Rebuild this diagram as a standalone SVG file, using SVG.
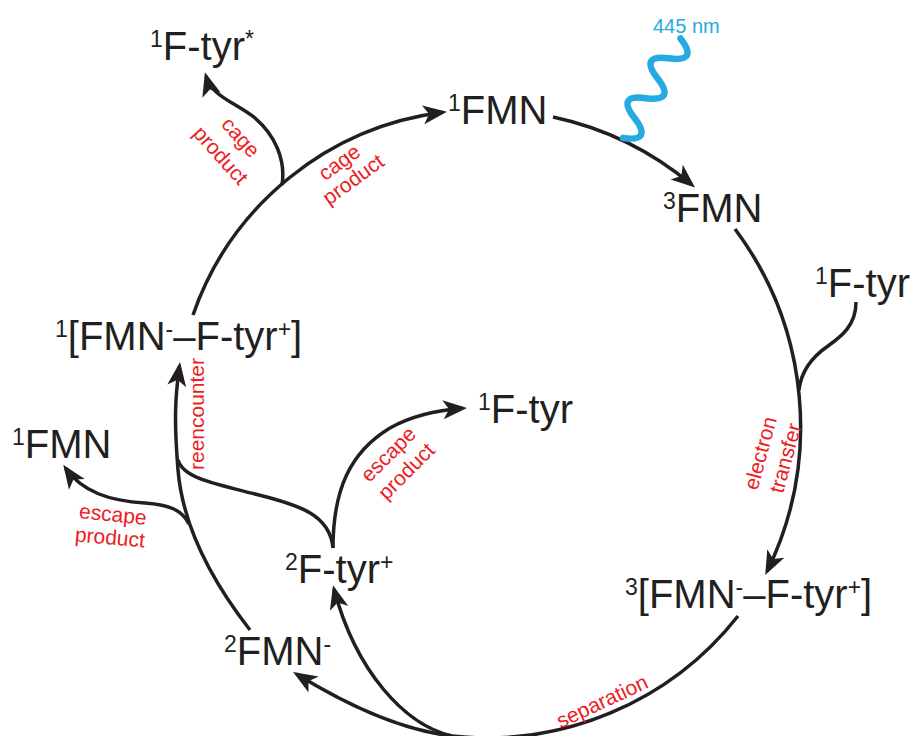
<svg xmlns="http://www.w3.org/2000/svg" width="914" height="736" viewBox="0 0 914 736">
<style>
.t{font-family:"Liberation Sans",Arial,sans-serif;font-size:40px;fill:#231f20}
.s{font-size:23px}
.r{font-family:"Liberation Sans",Arial,sans-serif;font-size:21px;fill:#ed1c24;text-anchor:middle;dominant-baseline:central}
.c{fill:none;stroke:#231f20;stroke-width:3.5}
.a{marker-end:url(#ah)}
</style>
<defs>
<marker id="ah" viewBox="-22 -11 26 22" markerWidth="26" markerHeight="22" refX="0" refY="0" orient="auto" markerUnits="userSpaceOnUse">
<path d="M4,0 L-20,-9.5 L-14,0 L-20,9.5 Z" fill="#231f20"/>
</marker>
</defs>
<rect width="914" height="736" fill="#fff"/>
<g id="connectors">
<path class="c a" d="M193,315 A305,305 0 0 1 443,112.3"/>
<path class="c a" d="M282,185 C286,160 275,135 255,118 C235,102 212,97 206,76"/>
<path class="c a" d="M553,117 A320,320 0 0 1 692,185"/>
<path class="c a" d="M735,229 A330,330 0 0 1 767,571.5"/>
<path class="c" d="M856,302 C856,325 842,336 828,346 C812,357 801,372 799,390"/>
<path class="c" d="M738,616 A320,320 0 0 1 452,736"/>
<path class="c a" d="M452,736 C400,730 342,702 296.5,674"/>
<path class="c a" d="M452,736 C405,725 356,672 334,589"/>
<path class="c a" d="M250,630 C215,585 183,530 178,470 C174,420 175,398 179.5,366"/>
<path class="c a" d="M189,524 C182,510 170,505 145,503 C110,501 82,492 65.5,468"/>
<path class="c" d="M333,548 C330,515 300,505 255,494 C215,484 183,478 178,460"/>
<path class="c a" d="M333,548 C333,490 350,452 390,428 C415,414 440,410 463,408.3"/>
<path d="M0,0 q11.5,28 23,0 t23,0 t23,0 t23,0 t23,0" fill="none" stroke="#27aae1" stroke-width="6.5" stroke-linecap="round" transform="translate(623,138) rotate(-60)"/>
</g>
<g id="labels">
<text x="653" y="33" font-family="Liberation Sans,Arial,sans-serif" font-size="20" fill="#27aae1">445 nm</text>
<text class="r" transform="translate(241,137) rotate(48)">cage</text>
<text class="r" transform="translate(221,155) rotate(48)">product</text>
<text class="r" transform="translate(339,162) rotate(-36)">cage</text>
<text class="r" transform="translate(353,179) rotate(-36)">product</text>
<text class="r" transform="translate(760,453) rotate(-75)">electron</text>
<text class="r" transform="translate(785,458) rotate(-75)">transfer</text>
<text class="r" transform="translate(602,701) rotate(-25)">separation</text>
<text class="r" transform="translate(196,414) rotate(-90)">reencounter</text>
<text class="r" transform="translate(113,514) rotate(6)">escape</text>
<text class="r" transform="translate(110,537) rotate(5)">product</text>
<text class="r" transform="translate(388,454) rotate(-45)">escape</text>
<text class="r" transform="translate(406,471) rotate(-45)">product</text>
</g>
<g id="n_FtyrStar"><text class="t" x="150" y="60"><tspan class="s" dy="-13">1</tspan><tspan dy="13">F-tyr</tspan><tspan class="s" dy="-13">*</tspan></text></g>
<g id="n_1FMN_top"><text class="t" x="448" y="124"><tspan class="s" dy="-13">1</tspan><tspan dy="13">FMN</tspan></text></g>
<g id="n_3FMN"><text class="t" x="663" y="222"><tspan class="s" dy="-13">3</tspan><tspan dy="13">FMN</tspan></text></g>
<g id="n_1Ftyr_right"><text class="t" x="815" y="297"><tspan class="s" dy="-13">1</tspan><tspan dy="13">F-tyr</tspan></text></g>
<g id="n_3pair"><text class="t" x="625" y="608"><tspan class="s" dy="-13">3</tspan><tspan dy="13">[FMN</tspan><tspan class="s" dy="-13">-</tspan><tspan dy="13">–F-tyr</tspan><tspan class="s" dy="-13">+</tspan><tspan dy="13">]</tspan></text></g>
<g id="n_1pair"><text class="t" x="55" y="350"><tspan class="s" dy="-13">1</tspan><tspan dy="13">[FMN</tspan><tspan class="s" dy="-13">-</tspan><tspan dy="13">–F-tyr</tspan><tspan class="s" dy="-13">+</tspan><tspan dy="13">]</tspan></text></g>
<g id="n_1FMN_left"><text class="t" x="12" y="458"><tspan class="s" dy="-13">1</tspan><tspan dy="13">FMN</tspan></text></g>
<g id="n_1Ftyr_mid"><text class="t" x="478" y="423"><tspan class="s" dy="-13">1</tspan><tspan dy="13">F-tyr</tspan></text></g>
<g id="n_2Ftyr"><text class="t" x="285" y="583"><tspan class="s" dy="-13">2</tspan><tspan dy="13">F-tyr</tspan><tspan class="s" dy="-13">+</tspan></text></g>
<g id="n_2FMN"><text class="t" x="224" y="665"><tspan class="s" dy="-13">2</tspan><tspan dy="13">FMN</tspan><tspan class="s" dy="-13">-</tspan></text></g>
</svg>
